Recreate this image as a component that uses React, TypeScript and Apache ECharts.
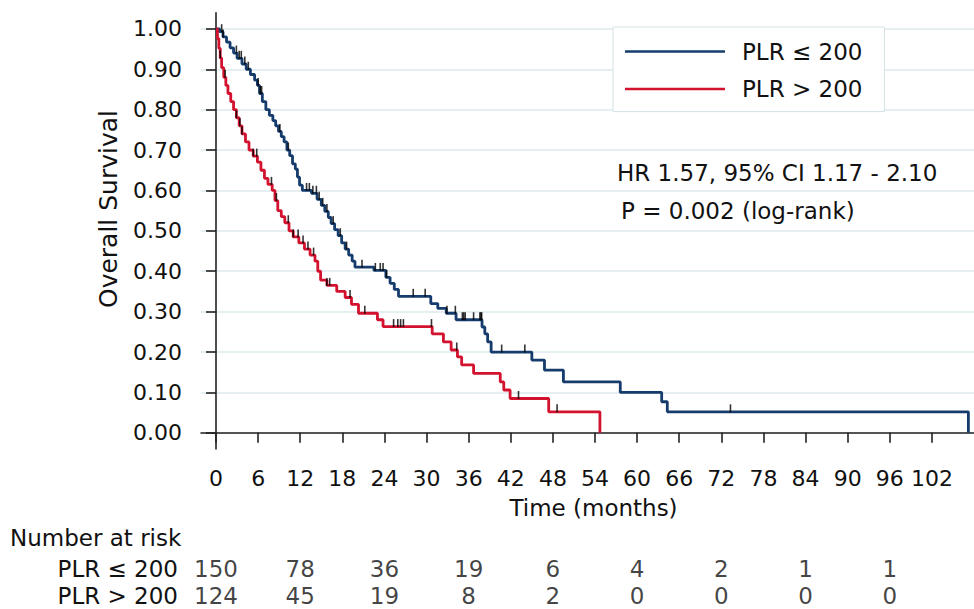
import React, { useEffect, useRef } from 'react';
import * as echarts from 'echarts';

const FONT = 'DejaVu Sans';
const groupNames = ['PLR ≤ 200', 'PLR > 200'];

// Kaplan-Meier steps [month, survival]
const blueCurve: [number, number][] = [
  [0, 1], [0.5, 0.993], [1.0, 0.98], [1.5, 0.967], [2.0, 0.953], [2.5, 0.94], [3.0, 0.927],
  [3.7, 0.913], [4.3, 0.9], [4.9, 0.887], [5.5, 0.873], [5.9, 0.86], [6.2, 0.84], [6.6, 0.82],
  [7.1, 0.8], [7.6, 0.786], [8.1, 0.773], [8.5, 0.76], [8.9, 0.746], [9.3, 0.733], [9.7, 0.72],
  [10.1, 0.7], [10.5, 0.686], [10.9, 0.666], [11.3, 0.653], [11.6, 0.633], [11.9, 0.613],
  [12.3, 0.6], [13.6, 0.593], [14.4, 0.578], [15.0, 0.563], [15.5, 0.548], [16.0, 0.533],
  [16.4, 0.518], [16.9, 0.503], [17.4, 0.488], [17.9, 0.47], [18.4, 0.455], [18.9, 0.44],
  [19.4, 0.425], [19.8, 0.41], [22.5, 0.402], [24.2, 0.385], [24.8, 0.37], [25.4, 0.355],
  [26.0, 0.338], [30.6, 0.32], [31.6, 0.308], [32.8, 0.296], [34.2, 0.28], [37.9, 0.262],
  [38.3, 0.245], [38.7, 0.225], [39.2, 0.2], [45.0, 0.18], [46.8, 0.155], [49.5, 0.126],
  [57.6, 0.1], [63.5, 0.077], [64.3, 0.052], [107.2, 0]
];
const redCurve: [number, number][] = [
  [0, 1], [0.2, 0.976], [0.4, 0.952], [0.6, 0.928], [0.8, 0.904], [1.1, 0.88], [1.4, 0.86],
  [1.7, 0.84], [2.1, 0.82], [2.5, 0.8], [2.9, 0.78], [3.3, 0.76], [3.7, 0.74], [4.2, 0.72],
  [4.7, 0.7], [5.3, 0.685], [5.9, 0.67], [6.4, 0.65], [6.9, 0.63], [7.4, 0.615], [8.0, 0.6],
  [8.4, 0.575], [8.8, 0.55], [9.3, 0.535], [9.8, 0.52], [10.4, 0.5], [11.0, 0.485],
  [11.8, 0.47], [12.6, 0.455], [13.4, 0.44], [14.1, 0.425], [14.5, 0.4], [14.9, 0.378],
  [15.8, 0.365], [17.2, 0.35], [18.4, 0.335], [19.3, 0.318], [20.3, 0.296], [23.0, 0.28],
  [23.8, 0.263], [30.8, 0.245], [32.4, 0.225], [33.5, 0.205], [34.4, 0.188], [35.0, 0.168],
  [36.7, 0.147], [40.5, 0.126], [41.0, 0.106], [41.9, 0.085], [47.4, 0.052], [54.7, 0]
];
const blueCensored = [
  0.8, 1.0, 2.9, 3.3, 3.6, 4.1, 4.6, 6.0, 6.3, 6.5, 9.1, 10.3, 12.9, 13.3, 13.8, 14.3, 14.7,
  15.2, 15.8, 16.7, 17.7, 18.6, 20.8, 22.7, 23.4, 23.8, 24.3, 28.1, 29.8, 32.9, 34.1, 35.1,
  35.3, 35.5, 36.7, 37.6, 37.75, 37.85, 40.7, 44.0, 73.3
];
const redCensored = [
  0.6, 1.3, 2.9, 3.4, 3.7, 5.3, 5.8, 7.9, 8.6, 10.3, 11.0, 11.7, 12.4, 13.1, 13.9, 15.8, 16.2,
  19.1, 21.2, 25.3, 25.9, 26.3, 26.7, 30.7, 34.3, 43.1, 48.6
];

const riskTimes = [0, 12, 24, 36, 48, 60, 72, 84, 96];
const riskLow = [150, 78, 36, 19, 6, 4, 2, 1, 1];
const riskHigh = [124, 45, 19, 8, 2, 0, 0, 0, 0];

const yTicks = [0, 0.1, 0.2, 0.3, 0.4, 0.5, 0.6, 0.7, 0.8, 0.9, 1.0];
const xTicks = [0, 6, 12, 18, 24, 30, 36, 42, 48, 54, 60, 66, 72, 78, 84, 90, 96, 102];

const hrText = 'HR 1.57, 95% CI 1.17 - 2.10';
const pText = 'P = 0.002 (log-rank)';
const yTitle = 'Overall Survival';
const xTitle = 'Time (months)';
const riskTitle = 'Number at risk';

const BLUE = '#153c6c';
const RED = '#d2122e';
const INK = '#111111';

function survAt(curve: [number, number][], t: number): number {
  let s = 1;
  for (const [tt, v] of curve) {
    if (tt <= t) s = v;
    else break;
  }
  return s;
}

export default function App() {
  const ref = useRef<HTMLDivElement>(null);
  useEffect(() => {
    if (!ref.current) return;
    const chart = echarts.init(ref.current, null, { renderer: 'svg' });
    const axisLineStyle = { color: '#222', width: 1.6 };
    const censorSeries = (data: number[], curve: [number, number][]) => ({
      type: 'scatter',
      data: data.map((t) => [t, survAt(curve, t)]),
      symbol: 'rect',
      symbolSize: [1.6, 8],
      symbolOffset: [0, -3.5],
      itemStyle: { color: '#000000' },
      silent: true,
      z: 4,
    });
    const riskSeries = (vals: number[], row: number) => ({
      type: 'scatter',
      xAxisIndex: 1,
      yAxisIndex: 1,
      data: riskTimes.map((t, i) => [t, row, vals[i]]),
      symbolSize: 1,
      itemStyle: { color: 'transparent' },
      silent: true,
      label: {
        show: true,
        position: 'inside',
        formatter: (p: any) => String(p.value[2]),
        fontSize: 23,
        fontFamily: FONT,
        color: INK,
      },
    });
    chart.setOption({
      animation: false,
      backgroundColor: '#ffffff',
      textStyle: { fontFamily: FONT },
      grid: [
        { left: 201, right: 0, top: 12.7, bottom: 160 },
        { left: 201, right: 0, top: 556, height: 56 },
      ],
      legend: {
        data: groupNames,
        orient: 'vertical',
        left: 613,
        top: 27,
        icon: 'rect',
        itemWidth: 100,
        itemHeight: 2.5,
        itemGap: 14.6,
        padding: [13, 22, 11, 12],
        backgroundColor: '#ffffff',
        borderColor: '#d5e2e6',
        borderWidth: 1,
        textStyle: { fontSize: 23, fontFamily: FONT, color: INK, padding: [0, 0, 0, 12] },
      },
      xAxis: [
        {
          type: 'value',
          min: -2.14,
          max: 108,
          axisLine: { show: true, lineStyle: axisLineStyle },
          axisTick: { show: true, customValues: xTicks, length: 10, lineStyle: axisLineStyle },
          axisLabel: { customValues: xTicks, margin: 18, fontSize: 22, fontFamily: FONT, color: INK },
          splitLine: { show: false },
          name: xTitle,
          nameLocation: 'middle',
          nameGap: 47,
          nameTextStyle: { fontSize: 23, fontFamily: FONT, color: INK, padding: [0, 0, 0, 12] },
        },
        { type: 'value', gridIndex: 1, min: -2.14, max: 108, show: false },
      ],
      yAxis: [
        {
          type: 'value',
          min: -0.04,
          max: 1.04,
          axisLine: { show: true, lineStyle: axisLineStyle },
          axisTick: { show: true, customValues: yTicks, length: 10, lineStyle: axisLineStyle },
          axisLabel: {
            customValues: yTicks,
            margin: 19,
            fontSize: 22,
            fontFamily: FONT,
            color: INK,
            formatter: (v: number) => v.toFixed(2),
          },
          splitLine: { show: true, lineStyle: { color: '#dde9ed', width: 1.5 } },
        },
        {
          type: 'category',
          gridIndex: 1,
          data: groupNames,
          inverse: true,
          axisLine: { show: false },
          axisTick: { show: false },
          splitLine: { show: false },
          axisLabel: { interval: 0, margin: 23, fontSize: 23, fontFamily: FONT, color: INK },
        },
      ],
      graphic: [
        {
          type: 'text',
          x: 108,
          y: 209,
          rotation: Math.PI / 2,
          style: { text: yTitle, fontSize: 25, fontFamily: FONT, fill: INK, align: 'center', verticalAlign: 'middle' },
        },
        {
          type: 'text',
          x: 10,
          y: 538,
          style: { text: riskTitle, fontSize: 23, fontFamily: FONT, fill: INK, align: 'left', verticalAlign: 'middle' },
        },
        {
          type: 'text',
          x: 617,
          y: 173,
          z: 10,
          style: { text: hrText, fontSize: 23, fontFamily: FONT, fill: INK, align: 'left', verticalAlign: 'middle' },
        },
        {
          type: 'text',
          x: 621,
          y: 211,
          z: 10,
          style: { text: pText, fontSize: 23, fontFamily: FONT, fill: INK, align: 'left', verticalAlign: 'middle' },
        },
      ],
      series: [
        {
          name: groupNames[0],
          type: 'line',
          step: 'end',
          data: blueCurve,
          showSymbol: false,
          symbol: 'none',
          lineStyle: { color: BLUE, width: 2.8 },
          itemStyle: { color: BLUE },
          z: 3,
        },
        {
          name: groupNames[1],
          type: 'line',
          step: 'end',
          data: redCurve,
          showSymbol: false,
          symbol: 'none',
          lineStyle: { color: RED, width: 2.8 },
          itemStyle: { color: RED },
          z: 3,
        },
        censorSeries(blueCensored, blueCurve),
        censorSeries(redCensored, redCurve),
        riskSeries(riskLow, 0),
        riskSeries(riskHigh, 1),
      ],
    } as any);
    return () => chart.dispose();
  }, []);
  return (
    <div
      ref={ref}
      style={{ position: 'absolute', left: 0, top: 0, width: 974, height: 609, background: '#fff' }}
    />
  );
}
